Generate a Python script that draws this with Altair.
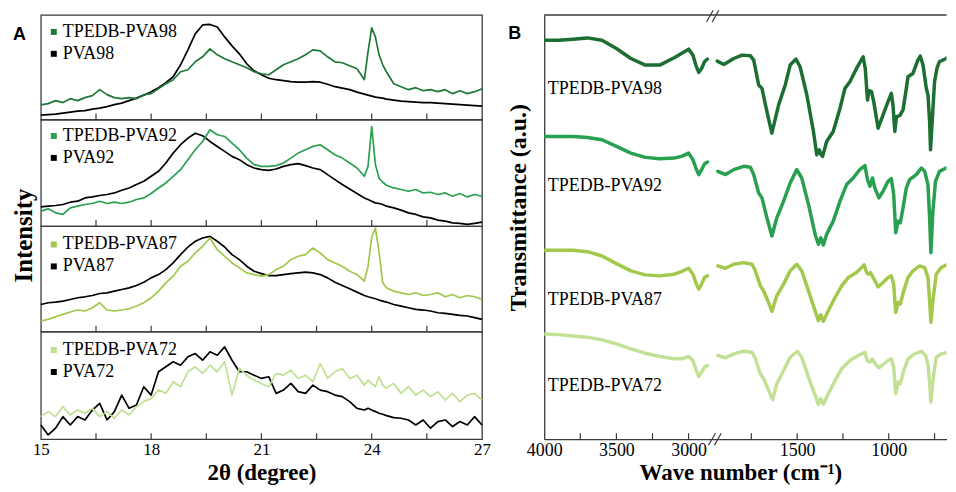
import altair as alt
import pandas as pd

SERIF = "Liberation Serif"
SANS = "Liberation Sans"
FRAME = "#3a3a3a"

# ---------------- Panel A : XRD ----------------
TWO_THETA = [15.0, 15.2, 15.4, 15.6, 15.8, 16.0, 16.2, 16.4, 16.6, 16.8, 17.0, 17.2, 17.4, 17.6, 17.8,
             18.0, 18.2, 18.4, 18.6, 18.8, 19.0, 19.2, 19.4, 19.6, 19.8, 20.0, 20.2, 20.4, 20.6, 20.8,
             21.0, 21.2, 21.4, 21.6, 21.8, 22.0, 22.2, 22.4, 22.6, 22.8, 23.0, 23.2, 23.4, 23.6, 23.8,
             23.9, 24.0, 24.1, 24.2, 24.3, 24.4, 24.6, 24.8, 25.0, 25.2, 25.4, 25.6, 25.8, 26.0, 26.2,
             26.4, 26.6, 26.8, 27.0]
XRD_TICKS = [16.5, 18, 19.5, 21, 22.5, 24, 25.5]
XRD_LABELS = [15, 18, 21, 24, 27]

PVA98 = [4.5, 5, 5.5, 6.5, 7.5, 8.5, 9, 10.5, 11.5, 13, 15, 16.5, 19, 21.5, 24.5, 28, 32, 37, 43, 55,
         70, 86, 95, 95.5, 93, 83, 74, 66, 56, 49, 45, 41.5, 40, 39, 38, 37.5, 37.5, 38, 37.5, 35.5,
         33, 31.5, 30, 27.5, 25.5, 24.5, 23.5, 22.5, 22, 21.5, 20.5, 19.5, 18.5, 18, 17.5, 17, 17, 16.5,
         16, 15.5, 15, 14.5, 14, 13.5]
TPEDB_PVA98 = [14.7, 16, 19, 17, 21, 19, 22, 24, 30, 25, 22, 21, 22, 21, 25, 26, 31, 36, 40, 48,
               50, 58, 63, 71, 65, 61, 58, 55, 52, 48, 46, 45, 50, 55, 58, 61, 65, 70, 69, 63,
               58, 57, 54, 51, 40, 68, 92, 83, 65, 55, 48, 36, 33, 30, 32, 29, 30, 28, 30, 26,
               29, 26, 28, 31]
PVA92 = [19.3, 20, 20.7, 21.7, 24, 25, 28.3, 29.3, 30.7, 31.7, 33.3, 36, 38.3, 41.7, 45, 50, 55, 63.3,
         73.3, 81.7, 88.3, 93.3, 90.7, 85, 80, 75, 70, 66.7, 61.7, 58.3, 56.7, 56, 57.3, 60, 61.7, 62.7,
         60.7, 58.3, 56.7, 51.7, 46.7, 41.7, 37.3, 32.7, 28.3, 26.7, 25, 23.3, 22.7, 21.7, 20, 18.3, 16,
         13.3, 11.7, 9.3, 8.3, 6, 5, 3.3, 2.7, 1.7, 2.7, 4]
TPEDB_PVA92 = [15, 17.3, 13.3, 11.7, 18.3, 20, 21.7, 22.7, 25, 22.7, 24, 22.7, 24, 26.7, 28.3, 32.7,
               38.3, 43.3, 50, 56.7, 66.7, 76.7, 85, 96.7, 91.7, 90, 83.3, 76.7, 68.3, 61.7, 60, 60,
               60.7, 63.3, 68.3, 73.3, 76.7, 80, 81.7, 76.7, 71.7, 68.3, 63.3, 58.3, 50, 60, 100, 62,
               48, 44, 41, 38.3, 36.7, 35, 36.7, 33.3, 34, 31.7, 33.3, 30, 32.7, 29.3, 31.7, 30]
PVA87 = [27.3, 29, 29.7, 30.7, 32.3, 34, 35, 36.3, 38.3, 39, 40.7, 42.3, 44, 46.3, 49.7, 54, 57.3, 62.3,
         69, 77.3, 85, 90.7, 94, 95.7, 90.7, 85, 77.3, 72.3, 65.7, 60.7, 58.3, 56.3, 56.3, 57.3, 58.3,
         59, 59.7, 59, 57.3, 54, 49.7, 46.3, 43, 39.7, 36.3, 35, 34, 33, 31.7, 30.7, 29.7, 27.3, 25.7,
         24, 22.3, 21.7, 20.7, 19, 18.3, 17.3, 16.3, 15.7, 14, 12.3]
TPEDB_PVA87 = [10.7, 12.3, 15, 17.3, 19.7, 21.7, 20.7, 24, 29, 21.7, 20.7, 21.7, 23, 25.7, 29, 34, 40.7,
               49, 55.7, 65.7, 70.7, 79, 85.7, 94, 82.3, 75.7, 69, 64, 59, 57.3, 55.7, 57.3, 62.3, 65.7,
               72.3, 75.7, 77.3, 84, 79, 72.3, 69, 65.7, 60.7, 57.3, 50.7, 65.7, 95, 104, 80, 49, 44,
               40.7, 39, 37.3, 39, 36.3, 37.3, 39, 35, 37.3, 34, 36.3, 35, 32.3]
PVA72 = [14.3, 4.3, 11, 22.7, 14.3, 22.7, 19.3, 29.3, 36, 19.3, 27.7, 44.3, 31, 34.3, 52.7, 44.3, 67.7,
         72.7, 77.7, 74.3, 82.7, 86, 79.3, 87.7, 84.3, 92.7, 79.3, 67.7, 67.7, 64.3, 61, 62.7, 46, 49.3,
         56, 47.7, 46, 54.3, 49.3, 47.7, 44.3, 42.7, 37.7, 31, 29.3, 31, 29.3, 27.7, 26, 25, 23.7, 21.7,
         21, 19.3, 14.3, 19.3, 11, 17.7, 19.3, 12.7, 17.7, 14.3, 22.7, 14.3]
TPEDB_PVA72 = [22.7, 27.7, 22.7, 32.7, 24.3, 29.3, 26, 31, 22.7, 27.7, 21, 29.3, 24.3, 32.7, 37.7, 41,
               49.3, 46, 57.7, 52.7, 67.7, 72.7, 66, 74.3, 67.7, 77.7, 44.3, 71, 64, 59.3, 56, 52.7,
               66, 64.3, 69.3, 61, 64.3, 57.7, 76, 61, 67.7, 71, 61, 64.3, 54.3, 59.3, 56, 52.7, 62.7,
               54.3, 51, 56, 46, 52.7, 44.3, 49.3, 42.7, 47.7, 39.3, 46, 37.7, 44.3, 46, 39.3]

XRD_NAMES = [("TPEDB-PVA98", "PVA98"), ("TPEDB-PVA92", "PVA92"),
             ("TPEDB-PVA87", "PVA87"), ("TPEDB-PVA72", "PVA72")]
XRD_SERIES = [(TPEDB_PVA98, PVA98), (TPEDB_PVA92, PVA92), (TPEDB_PVA87, PVA87), (TPEDB_PVA72, PVA72)]
XRD_COLORS = ["#1e7837", "#2aa050", "#a0c84b", "#bee191"]
XRD_HEIGHTS = [105, 107, 106, 108]
XRD_LEGEND_Y = [8, 7.5, 9.5, 9.5]

# ---------------- Panel B : FTIR ----------------
FTIR_NAMES = ["TPEDB-PVA98", "TPEDB-PVA92", "TPEDB-PVA87", "TPEDB-PVA72"]
FTIR_COLORS = ["#1d6e32", "#28a050", "#a2c84c", "#c3e196"]
FTIR_LABEL_T = [352, 254, 140, 53]
FTIR_LABEL_WN = 3975

LEFT_WN = [4000, 3900, 3800, 3700, 3600, 3500, 3400, 3300, 3200, 3100, 3050, 3000, 2970, 2950, 2930,
           2910, 2890, 2870]
LEFT_98 = [400.7, 400.7, 401.7, 403, 400.7, 392.3, 382.3, 375.7, 375.7, 383, 387.3, 391.7, 385.7, 375.7,
           368.3, 372.3, 379, 381.7]
LEFT_92 = [304, 304, 304, 303, 300.7, 294, 287.3, 283, 281.7, 282.3, 284, 287.3, 280.7, 272.3, 265.7,
           270.7, 276.3, 278.3]
LEFT_87 = [189.7, 189.7, 189.7, 188.3, 184, 176.3, 169, 165, 164, 165.7, 168.3, 171.7, 165.7, 157.3,
           150.7, 155.7, 162.3, 164]
LEFT_72 = [105.7, 105, 103.7, 102.3, 99.7, 95.7, 90.7, 86.3, 83, 80.7, 80.7, 83, 79, 70.7, 63, 67.3,
           72.3, 74]

RIGHT_WN_98 = [1936, 1900, 1846, 1801, 1755, 1737, 1710, 1692, 1665, 1638, 1601, 1565, 1538, 1507, 1484,
               1447, 1411, 1393, 1379, 1370, 1361, 1339, 1303, 1266, 1239, 1212, 1176, 1140, 1128, 1116,
               1108, 1094, 1082, 1058, 1031, 1004, 986, 977, 967, 958, 940, 922, 904, 895, 868, 841,
               828, 813, 795, 786, 777, 772, 763, 750, 737, 724, 687, 659, 648]
RIGHT_98 = [379.7, 376.3, 382.3, 385.7, 385, 380.7, 355.7, 352.3, 329, 307.3, 335.7, 355.7, 375.7, 381.7,
            374, 345.7, 309, 285.7, 290.7, 286, 284, 299, 309, 332.3, 352.3, 359, 372.3, 384, 372, 340.7,
            350, 349, 339, 312.3, 325.7, 339, 347.3, 335.7, 309, 324, 325, 330.7, 352.3, 364, 367.3,
            380.7, 384.7, 375.7, 352.3, 345.7, 319, 290.7, 319, 359, 372.3, 379, 382.3, 385.7, 382.3]
RIGHT_WN_92 = [1933, 1891, 1846, 1792, 1755, 1737, 1710, 1692, 1665, 1638, 1611, 1574, 1538, 1502, 1475,
               1438, 1402, 1384, 1371, 1357, 1339, 1303, 1266, 1230, 1194, 1158, 1130, 1116, 1103, 1089,
               1076, 1054, 1031, 1004, 986, 973, 962, 949, 937, 922, 904, 886, 850, 822, 804, 786, 777,
               770, 759, 745, 723, 687, 659, 648]
RIGHT_92 = [269, 265.7, 270.7, 274, 273, 265.7, 247.3, 242.3, 222.3, 204, 222.3, 239, 257.3, 270.7, 262.3,
            235.7, 205.7, 195.7, 202.3, 195, 205.7, 219, 239, 255.7, 262.3, 270.7, 274.7, 260.7, 254,
            262.3, 252.3, 242.3, 249, 259, 261.7, 245.7, 207.3, 219, 217.3, 232.3, 252.3, 260.7, 265.7,
            272.3, 269, 255.7, 222.3, 187.3, 229, 259, 269, 272.3, 274, 270.7]
RIGHT_WN_87 = [1933, 1891, 1846, 1792, 1746, 1728, 1701, 1683, 1656, 1638, 1611, 1574, 1538, 1502, 1475,
               1438, 1402, 1384, 1371, 1357, 1330, 1293, 1257, 1221, 1176, 1134, 1121, 1112, 1100, 1085,
               1058, 1031, 1004, 986, 973, 962, 949, 937, 918, 895, 868, 831, 804, 786, 777, 770, 759,
               741, 714, 678, 655, 648]
RIGHT_87 = [174, 171.7, 175.7, 177.3, 175.7, 169, 154, 149, 137.3, 128.3, 144, 155.7, 169, 175.7, 169, 149,
            129, 119, 125, 118.3, 129, 142.3, 154, 162.3, 167.3, 175, 167.3, 165.7, 167.3, 162.3, 153,
            157.3, 162.3, 164, 155.7, 127.3, 137.3, 135.7, 149, 162.3, 169, 174, 172.3, 162.3, 139, 117.3,
            139, 165.7, 172.3, 175.7, 175.7, 174]
RIGHT_WN_72 = [1933, 1891, 1846, 1792, 1746, 1728, 1701, 1683, 1656, 1634, 1611, 1574, 1538, 1498, 1475,
               1438, 1402, 1384, 1371, 1357, 1330, 1293, 1257, 1212, 1167, 1130, 1118, 1103, 1089, 1076,
               1054, 1031, 1004, 986, 973, 962, 949, 937, 918, 895, 859, 822, 799, 786, 777, 770, 759,
               741, 714, 678, 655, 648]
RIGHT_72 = [84, 81.7, 85.7, 88.3, 87.3, 80.7, 65.7, 60.7, 49, 39.7, 55.7, 69, 82.3, 88.3, 82.3, 62.3, 44,
            35, 40.7, 35, 45.7, 59, 70.7, 79, 84, 87.3, 79, 77.3, 80.7, 76.3, 71.7, 75, 79, 80.7, 72.3,
            45.7, 57.3, 55.7, 69, 80.7, 85.7, 88.3, 84, 75.7, 55.7, 37.3, 59, 82.3, 85.7, 87.3, 87.3,
            85.7]

FTIR_LEFT = [LEFT_98, LEFT_92, LEFT_87, LEFT_72]
FTIR_RIGHT = [(RIGHT_WN_98, RIGHT_98), (RIGHT_WN_92, RIGHT_92), (RIGHT_WN_87, RIGHT_87),
              (RIGHT_WN_72, RIGHT_72)]

FTIR_TICK_LABELS = [4000, 3500, 3000, 1500, 1000]
FTIR_MINOR = [3750, 3500, 3250, 3000, 1750, 1500, 1250, 1000, 750]
# axis-break marks "//" (plotting coordinate, transmittance units)
BREAK_U1 = [163, 168.7, 165, 171]
BREAK_U2 = [169.7, 175.3, 172, 177.7]
BREAK_T1 = [419, 419, -6, -6]
BREAK_T2 = [430.7, 430.7, 6, 6]

# broken axis: 4000-2400 cm-1 and 2000-600 cm-1 on one plotting coordinate
LEFT_SCALE, RIGHT_SCALE, RIGHT_ORIGIN = 0.145, 0.184, 254
U_EXPR = (f"datum.wn > 2400 ? (4000 - datum.wn) * {LEFT_SCALE} "
          f": {RIGHT_ORIGIN} + (1500 - datum.wn) * {RIGHT_SCALE}")


def u_of(wn):
    return (4000 - wn) * LEFT_SCALE if wn > 2400 else RIGHT_ORIGIN + (1500 - wn) * RIGHT_SCALE


A_W = 443
B_W, B_H = 404, 426
TITLE_Y = 40
TITLE_SIZE = 23


def xrd_view(i):
    t_name, p_name = XRD_NAMES[i]
    t_vals, p_vals = XRD_SERIES[i]
    h = XRD_HEIGHTS[i]
    first, last = i == 0, i == 3
    df_p = pd.DataFrame({"x": TWO_THETA, "v": p_vals, "s": p_name})
    df_t = pd.DataFrame({"x": TWO_THETA, "v": t_vals, "s": t_name})
    xscale = alt.Scale(domain=[15, 27], nice=False, zero=False)
    yscale = alt.Scale(domain=[0, h], nice=False, zero=False)
    if last:
        xaxis = alt.Axis(values=XRD_LABELS, format="d", ticks=False, domain=False, grid=False,
                         labelFlush=False, labelPadding=2, labelFont=SERIF, labelFontSize=17,
                         labelColor="black", title="2θ (degree)", titleFont=SERIF,
                         titleFontSize=TITLE_SIZE, titleFontWeight="bold", titleColor="black",
                         titleBaseline="alphabetic", titleY=TITLE_Y)
    else:
        xaxis = None
    if first:
        yaxis = alt.Axis(title="Intensity", labels=False, ticks=False, domain=False, grid=False,
                         titleX=-9, titleY=221, titleAngle=270, titleAlign="center",
                         titleBaseline="alphabetic", titleFont=SERIF, titleFontSize=25,
                         titleFontWeight="bold", titleColor="black")
    else:
        yaxis = None
    color = alt.Color("s:N",
                      scale=alt.Scale(domain=[t_name, p_name], range=[XRD_COLORS[i], "#000000"]),
                      legend=alt.Legend(title=None, orient="none", legendX=4, legendY=XRD_LEGEND_Y[i],
                                        symbolType="square", symbolSize=9, symbolStrokeWidth=3,
                                        labelFont=SERIF, labelFontSize=18, labelColor="black",
                                        labelOffset=0, rowPadding=4, labelLimit=0, padding=0))
    enc = dict(x=alt.X("x:Q", scale=xscale, axis=xaxis),
               y=alt.Y("v:Q", scale=yscale, axis=yaxis),
               color=color)
    line_p = alt.Chart(df_p).mark_line(strokeWidth=1.7, strokeJoin="round").encode(**enc)
    line_t = alt.Chart(df_t).mark_line(strokeWidth=1.7, strokeJoin="round").encode(**enc)
    ticks = alt.Chart(pd.DataFrame({"x": XRD_TICKS})).mark_rule(color=FRAME, strokeWidth=1.2).encode(
        x=alt.X("x:Q", scale=xscale, axis=xaxis), y=alt.value(h), y2=alt.value(h - 6))
    layers = [line_p, line_t, ticks]
    if first:
        tag = alt.Chart(pd.DataFrame({"t": ["A"]})).mark_text(
            align="left", baseline="alphabetic", font=SANS, fontSize=18, fontWeight="bold",
            color="black").encode(x=alt.value(-28), y=alt.value(25), text="t:N")
        # white spacer above the frame so that both panels share the same top overhang
        spacer = alt.Chart(pd.DataFrame({"k": [0]})).mark_rule(color="white", strokeWidth=1.2).encode(
            x=alt.value(200), y=alt.value(-4.7), y2=alt.value(-1.5))
        layers += [tag, spacer]
    return alt.layer(*layers).properties(
        width=A_W, height=h, view=alt.ViewBackground(stroke=FRAME, strokeWidth=1.3))


panel_a = alt.vconcat(*[xrd_view(i) for i in range(4)], spacing=0, bounds="flush").resolve_scale(
    color="independent", x="independent", y="independent")

# ---- FTIR data table ----
rows = []
for name, lv, (rwn, rv) in zip(FTIR_NAMES, FTIR_LEFT, FTIR_RIGHT):
    for wn, t in zip(LEFT_WN, lv):
        rows.append({"wn": wn, "t": t, "s": name, "seg": name + "-L"})
    for wn, t in zip(rwn, rv):
        rows.append({"wn": wn, "t": t, "s": name, "seg": name + "-R"})
df_ftir = pd.DataFrame(rows)

uscale = alt.Scale(domain=[0, B_W], nice=False, zero=False)
tscale = alt.Scale(domain=[0, B_H], nice=False, zero=False)

label_expr = (f"datum.value < 200 ? format(4000 - datum.value / {LEFT_SCALE}, 'd') "
              f": format(1500 - (datum.value - {RIGHT_ORIGIN}) / {RIGHT_SCALE}, 'd')")
xaxis_b = alt.Axis(values=[u_of(w) for w in FTIR_TICK_LABELS], labelExpr=label_expr, ticks=False,
                   grid=False, domain=True, domainColor=FRAME, domainWidth=1.3, labelFlush=False,
                   labelPadding=2, labelFont=SERIF, labelFontSize=18, labelColor="black",
                   title="Wave number (cm⁻¹)", titleFont=SERIF, titleFontSize=TITLE_SIZE,
                   titleFontWeight="bold", titleColor="black", titleBaseline="alphabetic",
                   titleX=197, titleY=TITLE_Y)
yaxis_b = alt.Axis(title="Transmittance (a.u.)", labels=False, ticks=False, grid=False, domain=True,
                   domainColor=FRAME, domainWidth=1.3, titleX=-19, titleY=193, titleAngle=270,
                   titleAlign="center", titleBaseline="alphabetic", titleFont=SERIF,
                   titleFontSize=24, titleFontWeight="bold", titleColor="black")

ftir_lines = alt.Chart(df_ftir).transform_calculate(u=U_EXPR).mark_line(
    strokeWidth=3.5, strokeJoin="round", strokeCap="round", clip=True).encode(
    x=alt.X("u:Q", scale=uscale, axis=xaxis_b),
    y=alt.Y("t:Q", scale=tscale, axis=yaxis_b),
    color=alt.Color("s:N", scale=alt.Scale(domain=FTIR_NAMES, range=FTIR_COLORS), legend=None),
    detail="seg:N")

df_lab = pd.DataFrame({"name": FTIR_NAMES, "wn": [FTIR_LABEL_WN] * 4, "t": FTIR_LABEL_T})
ftir_labels = alt.Chart(df_lab).transform_calculate(u=U_EXPR).mark_text(
    align="left", baseline="middle", font=SERIF, fontSize=18, color="black").encode(
    x=alt.X("u:Q", scale=uscale, axis=xaxis_b), y=alt.Y("t:Q", scale=tscale, axis=yaxis_b),
    text="name:N")

ftir_ticks = alt.Chart(pd.DataFrame({"wn": FTIR_MINOR})).transform_calculate(u=U_EXPR).mark_rule(
    color=FRAME, strokeWidth=1.2).encode(
    x=alt.X("u:Q", scale=uscale, axis=xaxis_b), y=alt.value(B_H), y2=alt.value(B_H - 6))

top_border = alt.Chart(pd.DataFrame({"k": [0]})).mark_rule(color=FRAME, strokeWidth=1.3).encode(
    x=alt.value(0), x2=alt.value(B_W), y=alt.value(0))

breaks = alt.Chart(pd.DataFrame({"u1": BREAK_U1, "u2": BREAK_U2, "t1": BREAK_T1, "t2": BREAK_T2})
                   ).mark_rule(color=FRAME, strokeWidth=1.2).encode(
    x=alt.X("u1:Q", scale=uscale, axis=xaxis_b), x2="u2:Q",
    y=alt.Y("t1:Q", scale=tscale, axis=yaxis_b), y2="t2:Q")

tag_b = alt.Chart(pd.DataFrame({"t": ["B"]})).mark_text(
    align="left", baseline="alphabetic", font=SANS, fontSize=18, fontWeight="bold",
    color="black").encode(x=alt.value(-36), y=alt.value(24), text="t:N")

panel_b = alt.layer(ftir_lines, ftir_labels, ftir_ticks, top_border, breaks, tag_b).properties(
    width=B_W, height=B_H, view=alt.ViewBackground(stroke="transparent"))

chart = alt.hconcat(panel_a, panel_b, spacing=13.5, bounds="full").resolve_scale(
    color="independent").properties(
    padding={"left": 3, "top": 0, "right": 0, "bottom": 0}).configure(
    background="white").configure_axis(
    labelFont=SERIF, titleFont=SERIF).configure_legend(labelFont=SERIF, titleFont=SERIF)

chart.save("out.html", embed_options={"renderer": "svg", "actions": False})
